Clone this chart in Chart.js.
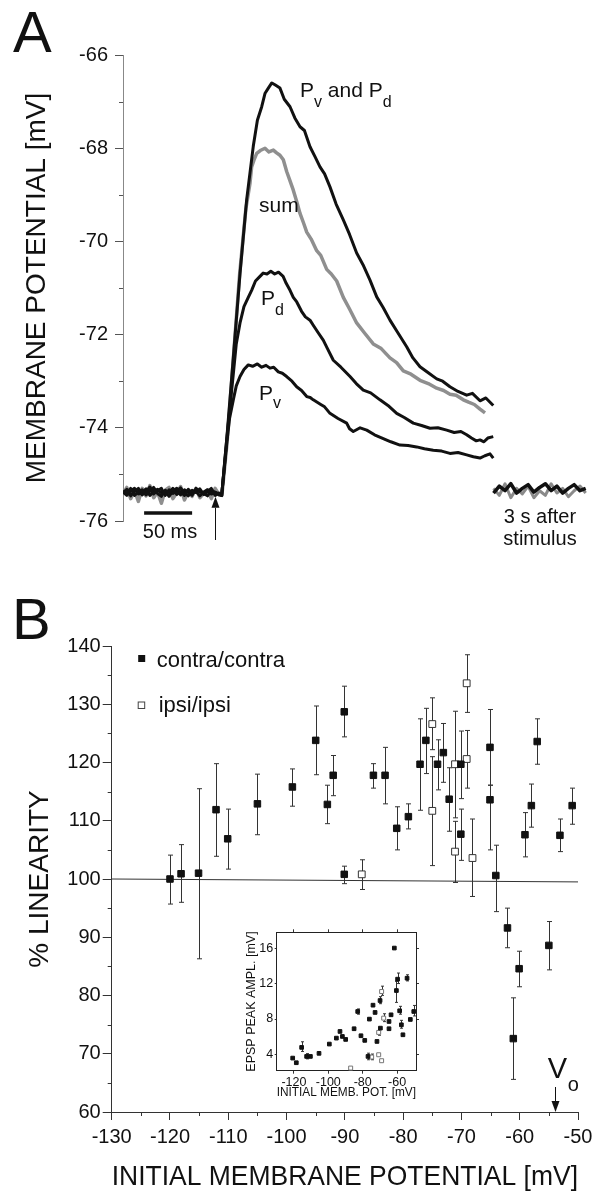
<!DOCTYPE html>
<html>
<head>
<meta charset="utf-8">
<script src="https://cdn.jsdelivr.net/npm/chart.js@4.4.1/dist/chart.umd.min.js"></script>
<style>
  html, body { margin: 0; padding: 0; background: #fff; }
  #wrap { position: relative; width: 599px; height: 1199px; overflow: hidden; }
  canvas { position: absolute; }
  #panelA { left: 0; top: 0; }
  #panelB { left: 0; top: 580px; }
  #inset { left: 235px; top: 920px; }
</style>
</head>
<body>
<div id="wrap">
  <canvas id="panelA" width="599" height="580"></canvas>
  <canvas id="panelB" width="599" height="619"></canvas>
  <canvas id="inset" width="190" height="182"></canvas>
</div>
<script>
// ---- Panel A: membrane potential traces (time in ms, potential in mV) ----
const baseTime = [0, 4, 8, 12, 16, 20, 24, 28, 32, 36, 40, 44, 48, 52, 56, 60, 64, 68, 72, 76, 80, 84, 88, 92, 96, 100];
const pvpdBase = [-75.35, -75.42, -75.3, -75.45, -75.38, -75.33, -75.44, -75.36, -75.28, -75.41, -75.47, -75.34, -75.39, -75.3, -75.43, -75.37, -75.45, -75.32, -75.4, -75.36, -75.46, -75.38, -75.33, -75.42, -75.39, -75.44];
const pdBase = [-75.4, -75.32, -75.46, -75.36, -75.3, -75.44, -75.38, -75.27, -75.42, -75.35, -75.3, -75.45, -75.33, -75.41, -75.36, -75.29, -75.4, -75.46, -75.34, -75.39, -75.31, -75.43, -75.37, -75.3, -75.45, -75.4];
const pvBase = [-75.38, -75.45, -75.35, -75.3, -75.42, -75.39, -75.31, -75.45, -75.37, -75.32, -75.4, -75.36, -75.47, -75.35, -75.3, -75.44, -75.33, -75.38, -75.45, -75.3, -75.37, -75.41, -75.46, -75.35, -75.38, -75.42];
const sumBase = [-75.42, -75.28, -75.52, -75.35, -75.58, -75.3, -75.46, -75.24, -75.5, -75.38, -75.62, -75.34, -75.28, -75.52, -75.4, -75.26, -75.55, -75.37, -75.47, -75.3, -75.5, -75.41, -75.33, -75.52, -75.3, -75.43];

const pvpdTime = [102.8, 108, 115, 121.9, 128.8, 135.7, 140, 144.5, 148, 151.4, 155, 158.3, 163.5, 168, 174, 179, 184.4, 189, 194.8, 200, 205.2, 210, 215.6, 222, 229.5, 236, 243.4, 250, 257.3, 264.3, 271, 278.1, 286, 295.5, 302, 309.4, 318, 326.8, 333, 340.6, 349, 358, 364, 371.9, 378, 385.7];
const pvpdMv = [-75.45, -74.26, -72.47, -70.69, -69.11, -67.96, -67.4, -67.11, -66.82, -66.71, -66.6, -66.64, -66.71, -66.95, -67.11, -67.35, -67.54, -67.62, -67.97, -68.18, -68.4, -68.55, -68.83, -69.2, -69.54, -69.85, -70.25, -70.5, -70.83, -71.19, -71.42, -71.69, -71.95, -72.26, -72.5, -72.69, -72.82, -72.95, -73.0, -73.12, -73.22, -73.3, -73.26, -73.42, -73.36, -73.52];

const sumTime = [103, 108.5, 115, 121.5, 128, 132.3, 134, 136.5, 139.3, 143, 147.9, 152, 156.6, 160, 163.5, 167, 170.5, 174, 177.4, 181, 184.4, 188, 191.4, 196, 201.8, 206, 212.2, 217, 222.6, 229.5, 236, 243.4, 251, 260.7, 269, 278.1, 285, 292, 300, 309.4, 318, 326.8, 334, 340.6, 347, 354.5, 360, 366, 371.9, 377.1];
const sumMv = [-75.45, -74.3, -72.5, -70.7, -69.3, -68.75, -68.4, -68.25, -68.11, -68.05, -68.0, -68.08, -68.04, -68.1, -68.15, -68.25, -68.5, -68.7, -68.9, -69.15, -69.4, -69.6, -69.8, -69.95, -70.2, -70.3, -70.6, -70.7, -70.85, -71.2, -71.45, -71.75, -71.95, -72.2, -72.3, -72.5, -72.6, -72.78, -72.85, -72.98, -73.05, -73.15, -73.2, -73.28, -73.3, -73.4, -73.45, -73.5, -73.6, -73.68];

const pdTime = [102.8, 108, 114.9, 118, 121.9, 126, 130.5, 134, 138, 142.7, 146, 150, 154, 158, 162, 166.8, 170, 174, 177.4, 181, 186, 190, 194.8, 198.2, 203, 208.6, 213, 219.1, 227, 236.5, 243, 250.3, 258, 267.7, 276, 285.1, 293, 302.4, 311, 319.8, 328, 337.2, 345, 352, 358, 363, 368, 371.9, 376, 380, 385.7];
const pdMv = [-75.45, -74.26, -72.85, -72.2, -71.75, -71.4, -71.2, -71.05, -70.85, -70.75, -70.68, -70.7, -70.64, -70.7, -70.66, -70.75, -70.9, -71.05, -71.2, -71.3, -71.5, -71.62, -71.69, -71.8, -71.95, -72.12, -72.3, -72.55, -72.7, -72.9, -73.05, -73.19, -73.25, -73.4, -73.52, -73.69, -73.78, -73.9, -73.95, -74.01, -74.0, -74.05, -74.1, -74.08, -74.15, -74.22, -74.28, -74.26, -74.3, -74.22, -74.19];

const pvTime = [102.8, 108, 111, 114.9, 118, 121.9, 126, 130.5, 135, 140, 144.5, 149, 153.1, 157, 161.8, 166, 170.5, 176, 180.9, 186, 191.4, 195, 198.2, 206, 210, 215.6, 224, 233, 236, 239.9, 247, 253.9, 262, 271.1, 279, 288.5, 297, 305.9, 314, 323.2, 332, 340.6, 349, 358, 365, 371.9, 377, 382.3, 385.7];
const pvMv = [-75.45, -74.35, -73.8, -73.4, -73.1, -72.9, -72.75, -72.65, -72.68, -72.63, -72.7, -72.66, -72.72, -72.7, -72.8, -72.83, -72.9, -73.0, -73.12, -73.2, -73.33, -73.35, -73.4, -73.5, -73.55, -73.69, -73.8, -73.9, -74.02, -74.08, -74.0, -74.05, -74.15, -74.23, -74.3, -74.37, -74.38, -74.41, -74.45, -74.48, -74.5, -74.55, -74.53, -74.58, -74.62, -74.65, -74.6, -74.56, -74.65];

// traces 3 s after the stimulus, drawn after a break in the time axis
const lateTime = [386, 392, 398, 404, 410, 416, 422, 428, 434, 440, 446, 452, 458, 464, 470, 476, 482];
const lateBlack = [-75.4, -75.25, -75.35, -75.2, -75.4, -75.3, -75.22, -75.38, -75.28, -75.2, -75.35, -75.25, -75.4, -75.3, -75.22, -75.35, -75.3];
const lateGrey = [-75.3, -75.45, -75.2, -75.5, -75.3, -75.42, -75.25, -75.5, -75.35, -75.45, -75.2, -75.4, -75.3, -75.48, -75.35, -75.25, -75.4];

const scaleBarTime = [22, 72];
const scaleBarMv = -75.83;
const stimulusTime = 96;
const minorTicksA = [-75, -73, -71, -69, -67];

// ---- Panel B: % linearity vs initial membrane potential ----
const contraX = [-120.0, -118.1, -115.1, -112.1, -110.1, -105.0, -99.0, -95.0, -93.0, -92.0, -90.1, -90.1, -85.1, -83.1, -81.1, -79.1, -77.1, -76.1, -74.1, -73.1, -72.1, -70.1, -70.1, -65.1, -65.1, -64.1, -62.1, -61.1, -60.1, -59.1, -58.0, -57.0, -55.0, -53.1, -51.0];
const contraY = [100.0, 100.9, 101.0, 111.9, 106.9, 112.9, 115.8, 123.8, 112.8, 117.8, 128.7, 100.8, 117.8, 117.8, 108.7, 110.7, 119.7, 123.8, 119.7, 121.7, 113.7, 119.7, 107.7, 122.6, 113.6, 100.6, 91.6, 72.6, 84.6, 107.6, 112.6, 123.6, 88.6, 107.5, 112.6];
const contraLo = [95.7, 96.0, 86.3, 103.9, 101.7, 107.6, 112.5, 117.9, 109.5, 114.3, 124.4, 99.2, 115.6, 112.9, 105.0, 108.6, 111.8, 118.1, 115.3, 116.6, 108.2, 113.8, 103.2, 116.1, 105.0, 94.4, 88.2, 65.6, 81.5, 103.8, 108.9, 119.7, 84.4, 104.7, 109.4];
const contraHi = [104.1, 105.9, 115.5, 119.8, 112.0, 118.0, 118.9, 129.7, 116.1, 121.2, 133.1, 102.2, 119.8, 122.6, 112.4, 112.9, 127.5, 129.3, 123.9, 126.7, 119.1, 125.4, 112.0, 129.1, 116.1, 105.8, 95.0, 79.6, 87.6, 111.4, 116.3, 127.5, 92.7, 110.3, 115.6];

const ipsiX = [-87.1, -75.0, -75.0, -71.1, -71.1, -69.1, -69.1, -68.1];
const ipsiY = [100.8, 126.6, 111.7, 119.7, 104.7, 133.6, 120.6, 103.6];
const ipsiLo = [98.2, 122.2, 102.3, 110.5, 99.4, 128.6, 115.6, 97.0];
const ipsiHi = [103.3, 131.1, 121.0, 128.8, 109.9, 138.5, 125.5, 110.3];

const refLineX = [-130, -50];
const refLineY = [100, 99.5];
const voPotential = -54;
const minorTicksBX = [-125, -115, -105, -95, -85, -75, -65, -55];
const minorTicksBY = [65, 75, 85, 95, 105, 115, 125, 135];

// ---- Inset: EPSP peak amplitude vs initial membrane potential ----
const insetContraX = [-120.7, -118.6, -115.5, -112.6, -110.4, -105.4, -99.4, -95.3, -93.2, -91.8, -89.9, -85.0, -82.9, -81.0, -78.8, -76.1, -76.9, -74.0, -72.8, -71.7, -69.9, -69.7, -64.7, -64.7, -63.5, -61.6, -60.4, -59.7, -58.5, -57.5, -56.6, -54.2, -52.3, -50.3];
const insetContraY = [3.54, 3.01, 4.76, 3.73, 3.73, 4.08, 5.14, 5.82, 6.58, 6.01, 5.67, 6.89, 8.86, 6.09, 5.56, 7.99, 3.73, 9.58, 8.75, 5.44, 10.11, 6.96, 7.72, 6.89, 8.48, 16.1, 11.25, 12.55, 8.94, 7.34, 6.2, 12.66, 7.95, 8.86];
const insetIpsiX = [-87.0, -69.0, -67.8, -70.7, -70.7, -69.0, -74.8];
const insetIpsiY = [2.4, 11.14, 8.1, 6.47, 3.92, 3.24, 3.66];
const insetErrX = [-115.5, -112.6, -82.9, -76.9, -74.8, -69.9, -69.0, -67.8, -70.7, -60.4, -59.7, -58.5, -57.5, -54.2, -50.3];
const insetErrLo = [4.3, 3.45, 8.55, 3.35, 3.35, 9.75, 10.7, 7.7, 6.15, 9.9, 12.05, 8.55, 6.95, 12.35, 8.35];
const insetErrHi = [5.4, 4.05, 9.15, 4.1, 4.0, 10.55, 11.75, 8.6, 6.8, 12.3, 13.25, 9.45, 7.85, 13.05, 9.55];
const insetXTicks = [-120, -100, -80, -60];
const insetYTicks = [4, 8, 12, 16];

const FONT = '"Liberation Sans", Arial, Helvetica, sans-serif';
Chart.defaults.font.family = FONT;
Chart.defaults.color = '#111';

function points(xs, ys) {
  return xs.map((x, i) => ({ x: x, y: ys[i] }));
}

function richText(ctx, x, y, parts) {
  parts.forEach((p) => {
    ctx.font = p.size + 'px ' + FONT;
    ctx.fillText(p.text, x, y + (p.dy || 0));
    x += ctx.measureText(p.text).width;
  });
}

function errorBars(ctx, xScale, yScale, xs, lo, hi, cap) {
  for (let i = 0; i < xs.length; i++) {
    const px = Math.round(xScale.getPixelForValue(xs[i])) + 0.5;
    const y1 = yScale.getPixelForValue(lo[i]);
    const y2 = yScale.getPixelForValue(hi[i]);
    ctx.beginPath();
    ctx.moveTo(px, y1);
    ctx.lineTo(px, y2);
    ctx.moveTo(px - cap, y1);
    ctx.lineTo(px + cap, y1);
    ctx.moveTo(px - cap, y2);
    ctx.lineTo(px + cap, y2);
    ctx.stroke();
  }
}

function arrowUp(ctx, x, tipY, bottomY, headW, headH) {
  ctx.beginPath();
  ctx.moveTo(x, bottomY);
  ctx.lineTo(x, tipY + headH);
  ctx.stroke();
  ctx.beginPath();
  ctx.moveTo(x, tipY);
  ctx.lineTo(x - headW, tipY + headH);
  ctx.lineTo(x + headW, tipY + headH);
  ctx.closePath();
  ctx.fill();
}

function arrowDown(ctx, x, topY, tipY, headW, headH) {
  ctx.beginPath();
  ctx.moveTo(x, topY);
  ctx.lineTo(x, tipY - headH);
  ctx.stroke();
  ctx.beginPath();
  ctx.moveTo(x, tipY);
  ctx.lineTo(x - headW, tipY - headH);
  ctx.lineTo(x + headW, tipY - headH);
  ctx.closePath();
  ctx.fill();
}

// Extra drawing for panel A: minor ticks, labels, stimulus arrow
const panelAExtras = {
  id: 'panelAExtras',
  afterDraw(chart) {
    const { ctx, chartArea, scales: { x, y } } = chart;
    ctx.save();
    ctx.strokeStyle = '#555';
    ctx.lineWidth = 1;
    minorTicksA.forEach((v) => {
      const py = Math.round(y.getPixelForValue(v)) + 0.5;
      ctx.beginPath();
      ctx.moveTo(chartArea.left - 4, py);
      ctx.lineTo(chartArea.left, py);
      ctx.stroke();
    });

    ctx.fillStyle = '#111';
    ctx.strokeStyle = '#111';
    arrowUp(ctx, Math.round(x.getPixelForValue(stimulusTime)) + 0.5,
      y.getPixelForValue(-75.48), chartArea.bottom + 19, 4, 11);

    ctx.textAlign = 'left';
    ctx.textBaseline = 'alphabetic';
    richText(ctx, x.getPixelForValue(184.4), y.getPixelForValue(-66.9), [
      { text: 'P', size: 21 }, { text: 'v', size: 16, dy: 10 },
      { text: ' and ', size: 21 }, { text: 'P', size: 21 }, { text: 'd', size: 16, dy: 10 }
    ]);
    richText(ctx, x.getPixelForValue(141.7), y.getPixelForValue(-69.37), [{ text: 'sum', size: 21 }]);
    richText(ctx, x.getPixelForValue(143.7), y.getPixelForValue(-71.36), [
      { text: 'P', size: 21 }, { text: 'd', size: 16, dy: 10 }
    ]);
    richText(ctx, x.getPixelForValue(141.7), y.getPixelForValue(-73.4), [
      { text: 'P', size: 21 }, { text: 'v', size: 16, dy: 8 }
    ]);

    ctx.textAlign = 'center';
    ctx.font = '20px ' + FONT;
    ctx.fillText('50 ms', x.getPixelForValue(49), y.getPixelForValue(-76.365));
    ctx.fillText('3 s after', x.getPixelForValue(434.4), y.getPixelForValue(-76.04));
    ctx.fillText('stimulus', x.getPixelForValue(434.4), y.getPixelForValue(-76.515));

    ctx.textAlign = 'left';
    ctx.font = '58px ' + FONT;
    ctx.fillText('A', 13, 52);
    ctx.restore();
  }
};

new Chart(document.getElementById('panelA'), {
  type: 'line',
  data: {
    datasets: [
      { data: points(baseTime, pvpdBase).concat(points(pvpdTime, pvpdMv)), borderColor: '#111', borderWidth: 3 },
      { data: points(baseTime, pdBase).concat(points(pdTime, pdMv)), borderColor: '#111', borderWidth: 3 },
      { data: points(baseTime, pvBase).concat(points(pvTime, pvMv)), borderColor: '#111', borderWidth: 3 },
      { data: points(lateTime, lateBlack), borderColor: '#111', borderWidth: 3.5 },
      { data: scaleBarTime.map((t) => ({ x: t, y: scaleBarMv })), borderColor: '#111', borderWidth: 3.5 },
      { data: points(lateTime, lateGrey), borderColor: '#8a8a8a', borderWidth: 3 },
      { data: points(baseTime, sumBase).concat(points(sumTime, sumMv)), borderColor: '#8f8f8f', borderWidth: 3.5 }
    ]
  },
  options: {
    responsive: false,
    animation: false,
    layout: { padding: { top: 55, bottom: 59, right: 11, left: 0 } },
    plugins: { legend: { display: false }, tooltip: { enabled: false } },
    elements: { point: { radius: 0 }, line: { tension: 0, borderJoinStyle: 'round' } },
    scales: {
      x: { type: 'linear', display: false, min: 0, max: 484.4 },
      y: {
        min: -76,
        max: -66,
        ticks: { stepSize: 2, font: { size: 20 }, padding: 7, color: '#111' },
        grid: { drawOnChartArea: false, tickLength: 8, color: '#555' },
        border: { color: '#888', dash: [1, 1] },
        title: { display: true, text: 'MEMBRANE POTENTIAL [mV]', font: { size: 28 }, color: '#111', padding: { top: 20 } },
        afterFit(scale) { scale.width = 123; }
      }
    }
  },
  plugins: [panelAExtras]
});

// Extra drawing for panel B: error bars, minor ticks, legend, V0 arrow
const panelBExtras = {
  id: 'panelBExtras',
  beforeDatasetsDraw(chart) {
    const { ctx, scales: { x, y } } = chart;
    ctx.save();
    ctx.strokeStyle = '#333';
    ctx.lineWidth = 1;
    errorBars(ctx, x, y, contraX, contraLo, contraHi, 2.5);
    errorBars(ctx, x, y, ipsiX, ipsiLo, ipsiHi, 2.5);
    ctx.restore();
  },
  afterDraw(chart) {
    const { ctx, chartArea, scales: { x, y } } = chart;
    ctx.save();
    ctx.strokeStyle = '#333';
    ctx.lineWidth = 1;
    minorTicksBX.forEach((v) => {
      const px = Math.round(x.getPixelForValue(v)) + 0.5;
      ctx.beginPath();
      ctx.moveTo(px, chartArea.bottom);
      ctx.lineTo(px, chartArea.bottom + 4);
      ctx.stroke();
    });
    minorTicksBY.forEach((v) => {
      const py = Math.round(y.getPixelForValue(v)) + 0.5;
      ctx.beginPath();
      ctx.moveTo(chartArea.left - 4, py);
      ctx.lineTo(chartArea.left, py);
      ctx.stroke();
    });

    // legend
    ctx.fillStyle = '#111';
    ctx.fillRect(chartArea.left + 26.5, chartArea.top + 9, 7, 7);
    ctx.fillStyle = '#fff';
    ctx.strokeStyle = '#444';
    ctx.fillRect(chartArea.left + 26.5, chartArea.top + 56, 6.5, 6.5);
    ctx.strokeRect(chartArea.left + 26.5, chartArea.top + 56, 6.5, 6.5);
    ctx.fillStyle = '#111';
    ctx.textAlign = 'left';
    ctx.font = '22px ' + FONT;
    ctx.fillText('contra/contra', chartArea.left + 45, chartArea.top + 21);
    ctx.fillText('ipsi/ipsi', chartArea.left + 47, chartArea.top + 65.5);

    // V0 arrow
    ctx.strokeStyle = '#111';
    arrowDown(ctx, Math.round(x.getPixelForValue(voPotential)) + 0.5, chartArea.bottom - 25, chartArea.bottom, 4, 11);
    ctx.font = '29px ' + FONT;
    ctx.fillText('V', chartArea.left + 436, chartArea.top + 432);
    ctx.font = '20px ' + FONT;
    ctx.fillText('o', chartArea.left + 456, chartArea.top + 445);

    ctx.font = '58px ' + FONT;
    ctx.fillText('B', 12, 59);
    ctx.restore();
  }
};

new Chart(document.getElementById('panelB'), {
  type: 'scatter',
  data: {
    datasets: [
      {
        data: points(contraX, contraY), pointStyle: 'rect', pointRadius: 4.6,
        backgroundColor: '#111', borderColor: '#111', borderWidth: 1
      },
      {
        data: points(ipsiX, ipsiY), pointStyle: 'rect', pointRadius: 4.8,
        backgroundColor: '#fff', borderColor: '#333', borderWidth: 1
      },
      {
        type: 'line', data: points(refLineX, refLineY), showLine: true,
        borderColor: '#333', borderWidth: 1, pointRadius: 0
      }
    ]
  },
  options: {
    responsive: false,
    animation: false,
    layout: { padding: { top: 66, right: 21, left: 0, bottom: 0 } },
    plugins: { legend: { display: false }, tooltip: { enabled: false } },
    scales: {
      x: {
        type: 'linear', min: -130, max: -50,
        ticks: { stepSize: 10, font: { size: 20 }, padding: 5, maxRotation: 0, autoSkip: false, color: '#111' },
        grid: { drawOnChartArea: false, tickLength: 8, color: '#333' },
        border: { color: '#333' },
        title: { display: true, text: 'INITIAL MEMBRANE POTENTIAL [mV]', font: { size: 28 }, color: '#111', padding: { bottom: 5 } },
        afterFit(scale) { scale.height = 87; }
      },
      y: {
        type: 'linear', min: 60, max: 140,
        ticks: { stepSize: 10, font: { size: 20 }, padding: 2, color: '#111' },
        grid: { drawOnChartArea: false, tickLength: 9, color: '#333' },
        border: { color: '#333' },
        title: { display: true, text: '% LINEARITY', font: { size: 28 }, color: '#111', padding: { top: 23 } },
        afterFit(scale) { scale.width = 111.7; }
      }
    }
  },
  plugins: [panelBExtras]
});

// Inset chart
const insetExtras = {
  id: 'insetExtras',
  beforeDatasetsDraw(chart) {
    const { ctx, scales: { x, y } } = chart;
    ctx.save();
    ctx.strokeStyle = '#333';
    ctx.lineWidth = 1;
    errorBars(ctx, x, y, insetErrX, insetErrLo, insetErrHi, 1.5);
    ctx.restore();
  }
};

const insetTickX = (scale) => { scale.ticks = insetXTicks.map((v) => ({ value: v })); };
const insetTickY = (scale) => { scale.ticks = insetYTicks.map((v) => ({ value: v })); };

new Chart(document.getElementById('inset'), {
  type: 'scatter',
  data: {
    datasets: [
      {
        data: points(insetContraX, insetContraY), pointStyle: 'rect', pointRadius: 2.6,
        backgroundColor: '#111', borderColor: '#111', borderWidth: 1, clip: false
      },
      {
        data: points(insetIpsiX, insetIpsiY), pointStyle: 'rect', pointRadius: 2.8,
        backgroundColor: '#fff', borderColor: '#777', borderWidth: 1, clip: false
      }
    ]
  },
  options: {
    responsive: false,
    animation: false,
    layout: { padding: 0 },
    plugins: { legend: { display: false }, tooltip: { enabled: false } },
    scales: {
      x: {
        type: 'linear', min: -130, max: -49, afterBuildTicks: insetTickX,
        ticks: { font: { size: 12.5 }, padding: 1, maxRotation: 0, color: '#111' },
        grid: { drawOnChartArea: false, tickLength: 3, color: '#333' },
        border: { color: '#222' },
        title: { display: true, text: 'INITIAL MEMB. POT. [mV]', font: { size: 12.5 }, color: '#111', padding: { top: 0, bottom: 1.5 } },
        afterFit(scale) { scale.height = 31.3; }
      },
      y: {
        type: 'linear', min: 2.1, max: 17.9, afterBuildTicks: insetTickY,
        ticks: { font: { size: 12.5 }, padding: 1.5, color: '#111' },
        grid: { drawOnChartArea: false, tickLength: 2, color: '#333' },
        border: { color: '#222' },
        title: { display: true, text: 'EPSP PEAK AMPL. [mV]', font: { size: 12.5 }, color: '#111', padding: { top: 9.5 } },
        afterFit(scale) { scale.width = 41.7; }
      },
      x2: {
        type: 'linear', position: 'top', min: -130, max: -49, afterBuildTicks: insetTickX,
        ticks: { display: false },
        grid: { drawOnChartArea: false, tickLength: 3, color: '#333' },
        border: { color: '#222' },
        afterFit(scale) { scale.height = 12.3; }
      },
      y2: {
        type: 'linear', position: 'right', min: 2.1, max: 17.9, afterBuildTicks: insetTickY,
        ticks: { display: false },
        grid: { drawOnChartArea: false, tickLength: 3, color: '#333' },
        border: { color: '#222' },
        afterFit(scale) { scale.width = 9; }
      }
    }
  },
  plugins: [insetExtras]
});
</script>
</body>
</html>
